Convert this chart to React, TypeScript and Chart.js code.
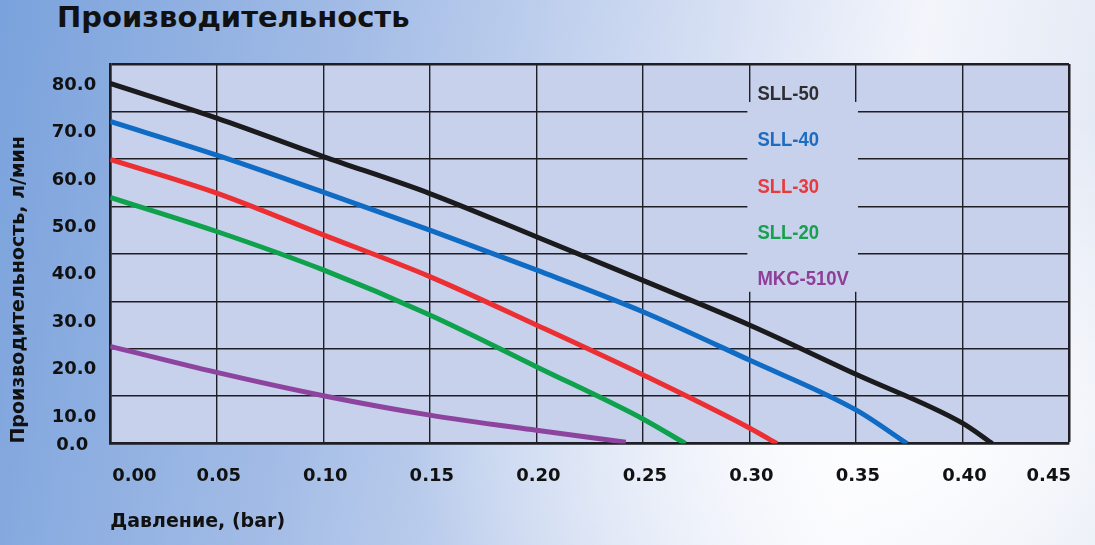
import { useEffect, useRef } from 'react';
import Chart from 'chart.js/auto';

const chartTitle = 'Производительность';
const xAxisTitle = 'Давление, (bar)';
const yAxisTitle = 'Производительность, л/мин';

const pressureTicks = [0, 0.05, 0.1, 0.15, 0.2, 0.25, 0.3, 0.35, 0.4, 0.45];
const flowTicks = [0, 10, 20, 30, 40, 50, 60, 70, 80];

const seriesNames = ['SLL-50', 'SLL-40', 'SLL-30', 'SLL-20', 'MKC-510V'];
const lineColors = ['#1b1b1d', '#0f6bc3', '#ec2f32', '#0ea24c', '#8d449f'];
const keyColors = ['#2e2e30', '#1d6cc0', '#e83a3c', '#17a04e', '#8e3f98'];

// pressure (bar) / flow (l/min)
const sll50Pressure = [0, 0.05, 0.1, 0.15, 0.2, 0.25, 0.3, 0.35, 0.4, 0.414];
const sll50Flow = [75.9, 68.6, 60.5, 52.7, 43.6, 34.4, 25.0, 14.6, 4.3, 0];

const sll40Pressure = [0, 0.05, 0.1, 0.15, 0.2, 0.25, 0.3, 0.35, 0.374];
const sll40Flow = [67.9, 60.8, 53.0, 45.0, 36.6, 27.8, 17.6, 7.1, 0];

const sll30Pressure = [0, 0.05, 0.1, 0.15, 0.2, 0.25, 0.3, 0.313];
const sll30Flow = [59.9, 52.8, 44.0, 35.2, 25.0, 14.5, 3.3, 0];

const sll20Pressure = [0, 0.05, 0.1, 0.15, 0.2, 0.25, 0.27];
const sll20Flow = [51.9, 44.7, 36.6, 27.1, 16.2, 5.2, 0];

const mkcPressure = [0, 0.05, 0.1, 0.15, 0.2, 0.242];
const mkcFlow = [20.5, 15.0, 10.1, 6.0, 2.8, 0.3];

const seriesPressure = [sll50Pressure, sll40Pressure, sll30Pressure, sll20Pressure, mkcPressure];
const seriesFlow = [sll50Flow, sll40Flow, sll30Flow, sll20Flow, mkcFlow];

const gridColor = '#1e1e24';
const plotFill = '#c8d1ec';
const textColor = '#111111';
const tickFont = { family: '"DejaVu Sans", sans-serif', size: 18, weight: 'bold' as const };
const titleFont = { family: '"DejaVu Sans", sans-serif', size: 19, weight: 'bold' as const };

const plotBackground = {
  id: 'plotBackground',
  beforeDraw(chart: Chart) {
    const { ctx, chartArea } = chart;
    ctx.save();
    ctx.fillStyle = plotFill;
    ctx.fillRect(chartArea.left, chartArea.top, chartArea.right - chartArea.left, chartArea.bottom - chartArea.top);
    ctx.restore();
  },
};

// the zero-width yZero axis would clip its own label, so give it room to the left
const zeroLabelRoom = {
  id: 'zeroLabelRoom',
  afterLayout(chart: Chart) {
    const s = chart.scales.yZero;
    if (s) s.left = s.right - 90;
  },
};

// legend drawn as coloured names inside the plot, over a patch of plot colour
const seriesKey = {
  id: 'seriesKey',
  beforeDatasetsDraw(chart: Chart) {
    const { ctx, chartArea, scales } = chart;
    const left = scales.x.getPixelForValue(0.3) - 2;
    const right = scales.x.getPixelForValue(0.35) + 2;
    const top = scales.y.getPixelForValue(72);
    const bottom = scales.y.getPixelForValue(32);
    ctx.save();
    ctx.fillStyle = plotFill;
    ctx.fillRect(left, top, right - left, bottom - top);
    ctx.font = 'bold 21px "Liberation Sans", Arial, sans-serif';
    ctx.textAlign = 'left';
    ctx.textBaseline = 'middle';
    chart.data.datasets.forEach((ds, i) => {
      const y = chartArea.top + 30 + i * 46.4;
      ctx.save();
      ctx.translate(left + 10, y);
      ctx.scale(0.88, 1);
      ctx.fillStyle = keyColors[i];
      ctx.fillText(String(ds.label), 0, 0);
      ctx.restore();
    });
    ctx.restore();
  },
};

function PerformanceChart() {
  const canvasRef = useRef<HTMLCanvasElement | null>(null);
  const chartRef = useRef<Chart | null>(null);

  useEffect(() => {
    if (!canvasRef.current) return;
    if (chartRef.current) chartRef.current.destroy();

    const datasets = seriesNames.map((name, i) => ({
      label: name,
      data: seriesPressure[i].map((p, j) => ({ x: p, y: seriesFlow[i][j] })),
      borderColor: lineColors[i],
      backgroundColor: lineColors[i],
      borderWidth: 5,
      pointRadius: 0,
      fill: false,
      cubicInterpolationMode: 'monotone' as const,
      xAxisID: 'x',
      yAxisID: 'y',
    }));

    chartRef.current = new Chart(canvasRef.current, {
      type: 'line',
      data: { datasets },
      options: {
        animation: false,
        responsive: true,
        maintainAspectRatio: false,
        layout: { padding: { top: 64, right: 26, bottom: 12, left: 4 } },
        plugins: {
          legend: { display: false },
          tooltip: { enabled: false },
        },
        scales: {
          x: {
            type: 'linear',
            min: 0,
            max: 0.45,
            afterBuildTicks: (scale) => {
              scale.ticks = pressureTicks.map((v) => ({ value: v }));
            },
            grid: {
              color: gridColor,
              lineWidth: (c) => (c.tick && c.tick.value === 0.45 ? 2.5 : 1.4),
              drawTicks: false,
            },
            border: { display: true, color: gridColor, width: 2.5 },
            ticks: {
              align: 'inner',
              labelOffset: 2,
              padding: 22,
              autoSkip: false,
              maxRotation: 0,
              color: textColor,
              font: tickFont,
              callback: (v) => Number(v).toFixed(2),
            },
            title: {
              display: true,
              text: xAxisTitle,
              align: 'start',
              color: textColor,
              font: titleFont,
              padding: { top: 1, bottom: 0 },
            },
          },
          y: {
            type: 'linear',
            position: 'left',
            weight: 1,
            min: 0,
            max: 80,
            afterBuildTicks: (scale) => {
              scale.ticks = flowTicks.map((v) => ({ value: v }));
            },
            grid: {
              color: gridColor,
              lineWidth: (c) => (c.tick && c.tick.value === 80 ? 2.5 : 1.4),
              drawTicks: false,
            },
            border: { display: true, color: gridColor, width: 2.5 },
            ticks: {
              padding: 14,
              labelOffset: 21,
              color: textColor,
              font: tickFont,
              callback: (v) => (Number(v) === 0 ? '' : Number(v).toFixed(1)),
            },
            title: {
              display: true,
              text: yAxisTitle,
              align: 'start',
              color: textColor,
              font: titleFont,
              padding: { top: 4, bottom: 7 },
            },
          },
          // carries only the 0.0 label, which sits on the base line
          yZero: {
            type: 'linear',
            position: 'left',
            weight: 0,
            min: 0,
            max: 80,
            afterBuildTicks: (scale) => {
              scale.ticks = [{ value: flowTicks[0] }];
            },
            afterFit: (scale) => {
              scale.width = 0;
            },
            grid: { display: false },
            border: { display: false },
            ticks: {
              padding: 14,
              labelOffset: 2,
              color: textColor,
              font: tickFont,
              callback: (v) => Number(v).toFixed(1),
            },
          },
        },
      },
      plugins: [plotBackground, zeroLabelRoom, seriesKey],
    });

    return () => {
      if (chartRef.current) {
        chartRef.current.destroy();
        chartRef.current = null;
      }
    };
  }, []);

  return <canvas ref={canvasRef} />;
}

export default function App() {
  return (
    <div
      style={{
        position: 'fixed',
        left: 0,
        top: 0,
        width: 1095,
        height: 545,
        overflow: 'hidden',
        background:
          'radial-gradient(ellipse 45% 60% at 82% 78%, rgba(255,255,255,0.95) 0%, rgba(255,255,255,0) 100%), linear-gradient(100deg, #7aa2dc 0%, #a3bce6 30%, #cdd9f1 55%, #f3f5fb 78%, #dfe6f3 100%)',
      }}
    >
      <div
        style={{
          position: 'absolute',
          left: 57,
          top: 3,
          font: 'bold 29px "DejaVu Sans", sans-serif',
          lineHeight: '28px',
          color: textColor,
          whiteSpace: 'nowrap',
        }}
      >
        {chartTitle}
      </div>
      <div style={{ position: 'absolute', left: 0, top: 0, width: 1095, height: 545 }}>
        <PerformanceChart />
      </div>
    </div>
  );
}
